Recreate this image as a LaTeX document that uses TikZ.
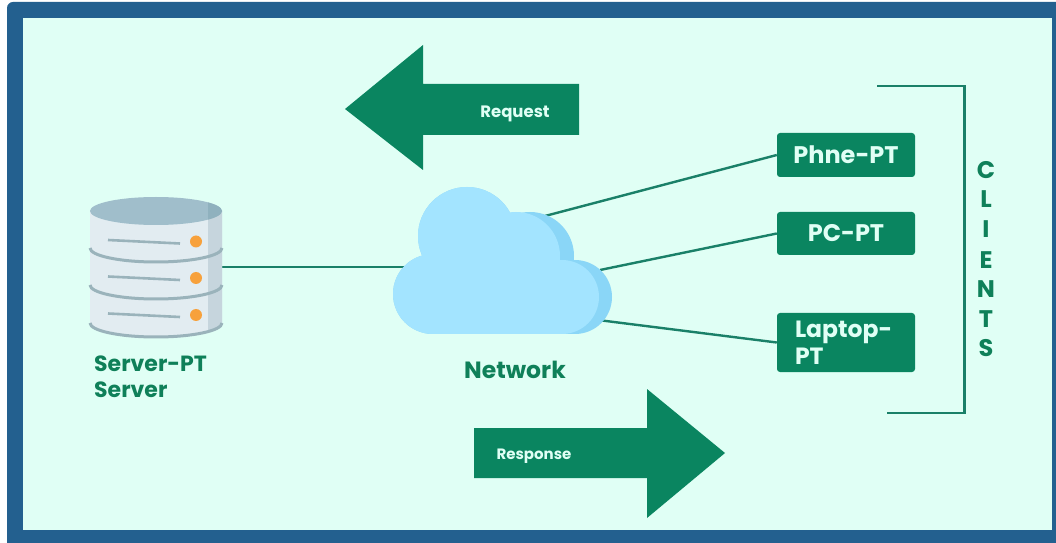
\documentclass[tikz,border=0pt]{standalone}
\usepackage{fontspec}
\setmainfont{Poppins}
\usetikzlibrary{calc}
\definecolor{framecol}{HTML}{23608F}
\definecolor{bgcol}{HTML}{E0FFF5}
\definecolor{greencol}{HTML}{0A8560}
\definecolor{textgreen}{HTML}{0F8059}
\definecolor{linecol}{HTML}{1A8068}
\definecolor{cloudlight}{HTML}{A3E4FF}
\definecolor{clouddark}{HTML}{8AD6F7}
\definecolor{dbbody}{HTML}{E2ECF1}
\definecolor{dbshade}{HTML}{C6D5DD}
\definecolor{dbtop}{HTML}{A0BECB}
\definecolor{dbtopd}{HTML}{8FB1BE}
\definecolor{dbline}{HTML}{9AB3BB}
\definecolor{dbdot}{HTML}{F7A13C}
\newcommand{\fs}[2]{\fontsize{#1bp}{#2bp}\selectfont\bfseries}
\newcommand{\cloudshape}[3]{%
  \fill[#1] (467,236) circle[radius=49];
  \fill[#1] (#2,256) circle[radius=44];
  \fill[#1] (#3,297) circle[radius=37];
  \fill[#1] (433,294) circle[radius=40];
  \fill[#1] (433,265) rectangle (#3,334);
}
\tikzset{
  x=1bp,y=-1bp,
  conn/.style={draw=linecol,line width=2.4bp},
  clientbox/.style={fill=greencol,rounded corners=3bp,inner sep=0pt,text=bgcol,minimum width=138bp},
  lbl/.style={text=textgreen,inner sep=0pt,font=\fs{22}{26}},
  arrowfill/.style={fill=greencol},
  arrowtext/.style={text=bgcol,inner sep=0pt},
  letter/.style={text=textgreen,inner sep=0pt,font=\fs{24}{28}},
  band/.style={draw=dbline,line width=3bp},
}
\begin{document}
\begin{tikzpicture}
\useasboundingbox (0,0) rectangle (1056,543);
\fill[white] (0,0) rectangle (1056,543);
\fill[framecol,rounded corners=6bp] (7,2) rectangle (1070,560);
\fill[bgcol] (23,18) rectangle (1052,530);
% anchor nodes
\node[inner sep=0pt,minimum width=132bp,minimum height=140bp] (server) at (156,267) {};
\node[inner sep=0pt,minimum width=219bp,minimum height=147bp] (cloud) at (502.5,260.5) {};
\node[clientbox,minimum height=44bp,font=\fs{24}{28}] (phone) at (846,155) {\raisebox{-1.5bp}{Phne-PT}};
\node[clientbox,minimum height=43bp,font=\fs{24}{28}] (pc) at (846,233.5) {\raisebox{-1.5bp}{PC-PT}};
\node[clientbox,minimum height=59bp,font=\fs{23.5}{27},align=left,text width=102bp] (laptop) at (846,342.5) {Laptop-\\PT};
\coordinate (cloudA) at (545,216);
\coordinate (cloudB) at (600,270);
\coordinate (cloudC) at (598,320);
% connectors
\draw[conn] (server.east) -- (server.east -| cloud.center);
\draw[conn] (cloudA) -- (phone.west);
\draw[conn] (cloudB) -- (pc.west);
\draw[conn] (cloudC) -- (laptop.west);
% server
\begin{scope}
  \clip (90,211) -- (90,323) arc[start angle=180,end angle=360,x radius=66,y radius=-14] -- (222,211) -- cycle;
  \fill[dbbody] (85,190) rectangle (230,345);
  \fill[dbshade] (208,190) rectangle (230,345);
\end{scope}
\foreach \yy in {248,285,323}
  \draw[band] (90,\yy) arc[start angle=180,end angle=360,x radius=66,y radius=-14];
\fill[dbtop] (156,211) ellipse[x radius=66,y radius=14];
\begin{scope}
  \clip (156,211) ellipse[x radius=66,y radius=14];
  \fill[dbtopd] (208,190) rectangle (225,230);
\end{scope}
\foreach \yy in {241.5,278,315}{
  \draw[draw=dbline,line width=2.6bp] (108,\yy-1.5) -- (180,\yy+2);
  \fill[dbdot] (196,\yy) circle[radius=6];
}
% cloud
\cloudshape{clouddark}{530}{575}
\cloudshape{cloudlight}{516}{562}
% labels
\node[lbl,anchor=west] (l1) at (94,364) {Server-PT};
\node[lbl,anchor=west] (l2) at (94,390) {Server};
\node[lbl,font=\fs{23.5}{27}] (l3) at (515,370) {Network};
% bracket
\draw[draw=linecol,line width=2.2bp] (877,86) -- (964.5,86) -- (964.5,413) -- (887,413);
\foreach \c/\yy/\n in {C/170/c1,L/199/c2,I/229/c3,E/260/c4,N/289/c5,T/319/c6,S/348/c7}
  \node[letter] (\n) at (986,\yy) {\c};
% arrows
\fill[arrowfill] (345,109) -- (423,45) -- (423,84) -- (579,84) -- (579,135) -- (423,135) -- (423,170) -- cycle;
\node[arrowtext,font=\fs{16.5}{20}] (req) at (515,114) {Request};
\fill[arrowfill] (725,453) -- (647,389) -- (647,428) -- (474,428) -- (474,478) -- (647,478) -- (647,518) -- cycle;
\node[arrowtext,font=\fs{15}{18}] (res) at (534,456) {Response};
\end{tikzpicture}
\end{document}
